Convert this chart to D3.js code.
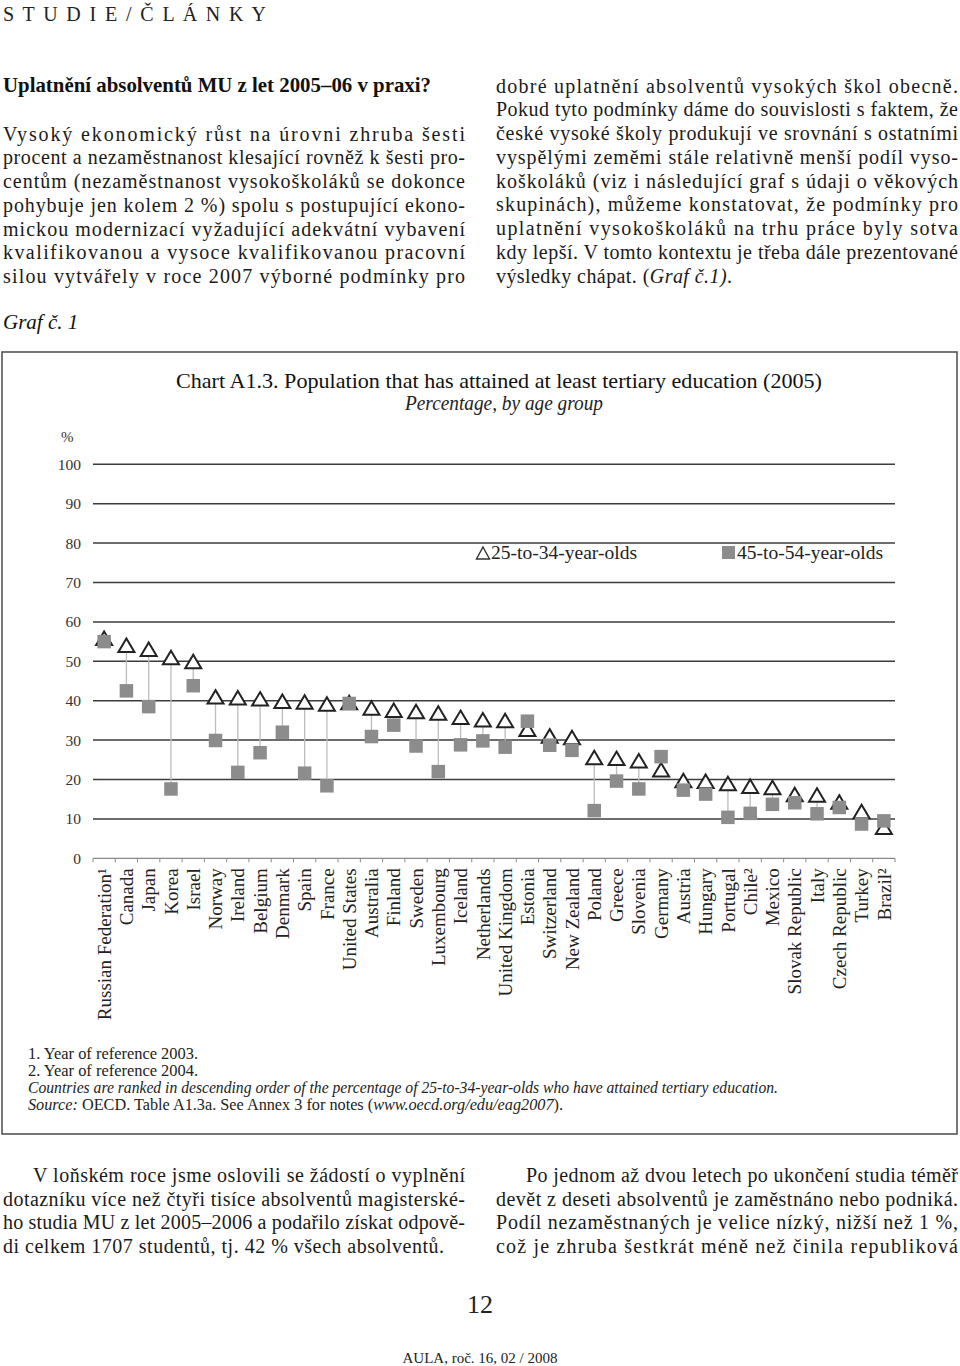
<!DOCTYPE html>
<html>
<head>
<meta charset="utf-8">
<script src="https://cdn.jsdelivr.net/npm/d3@7"></script>
<style>
  body { margin: 0; background: #fff; }
  svg { display: block; font-family: "Liberation Serif", "DejaVu Serif", serif; }
</style>
</head>
<body>
<div id="page"></div>
<script>

// chart data (percentages)
var countries = ['Russian Federation¹', 'Canada', 'Japan', 'Korea', 'Israel', 'Norway', 'Ireland',
  'Belgium', 'Denmark', 'Spain', 'France', 'United States', 'Australia', 'Finland', 'Sweden',
  'Luxembourg', 'Iceland', 'Netherlands', 'United Kingdom', 'Estonia', 'Switzerland',
  'New Zealand', 'Poland', 'Greece', 'Slovenia', 'Germany', 'Austria', 'Hungary', 'Portugal',
  'Chile²', 'Mexico', 'Slovak Republic', 'Italy', 'Czech Republic', 'Turkey', 'Brazil²'];

var age25to34 = [55.3, 53.5, 52.5, 50.4, 49.4, 40.4, 40.2, 39.9, 39.3, 39.1, 38.6, 39.0, 37.6, 37.0,
  36.7, 36.3, 35.2, 34.6, 34.4, 32.2, 30.5, 30.1, 25.0, 24.8, 24.2, 21.9, 19.2, 19.0, 18.4,
  17.7, 17.4, 15.6, 15.5, 13.7, 11.3, 7.3];

var age45to54 = [55.0, 42.5, 38.5, 17.6, 43.8, 29.9, 21.8, 26.8, 32.0, 21.6, 18.4, 39.3, 30.9, 33.8,
  28.5, 22.0, 28.8, 29.8, 28.2, 34.8, 28.7, 27.4, 12.1, 19.6, 17.6, 25.8, 17.3, 16.3, 10.4,
  11.4, 13.7, 14.1, 11.3, 12.9, 8.7, 9.5];

var yTicks = [0, 10, 20, 30, 40, 50, 60, 70, 80, 90, 100];
var seriesNames = ['25-to-34-year-olds', '45-to-54-year-olds'];

// page text
var header = 'S T U D I E   /   Č L Á N K Y';
var heading = 'Uplatnění absolventů MU z let 2005–06 v praxi?';
var leftColumn = [
  'Vysoký ekonomický růst na úrovni zhruba šesti',
  'procent a nezaměstnanost klesající rovněž k šesti pro-',
  'centům (nezaměstnanost vysokoškoláků se dokonce',
  'pohybuje jen kolem 2 %) spolu s postupující ekono-',
  'mickou modernizací vyžadující adekvátní vybavení',
  'kvalifikovanou a vysoce kvalifikovanou pracovní',
  'silou vytvářely v roce 2007 výborné podmínky pro'
];
var rightColumn = [
  'dobré uplatnění absolventů vysokých škol obecně.',
  'Pokud tyto podmínky dáme do souvislosti s faktem, že',
  'české vysoké školy produkují ve srovnání s ostatními',
  'vyspělými zeměmi stále relativně menší podíl vyso-',
  'koškoláků (viz i následující graf s údaji o věkových',
  'skupinách), můžeme konstatovat, že podmínky pro',
  'uplatnění vysokoškoláků na trhu práce byly sotva',
  'kdy lepší. V tomto kontextu je třeba dále prezentované'
];
var graphLabel = 'Graf č. 1';
var chartTitle = 'Chart A1.3. Population that has attained at least tertiary education (2005)';
var chartSubtitle = 'Percentage, by age group';
var footnotes = ['1. Year of reference 2003.', '2. Year of reference 2004.'];
var rankNote = 'Countries are ranked in descending order of the percentage of 25-to-34-year-olds who have attained tertiary education.';
var bottomLeft = [
  'V loňském roce jsme oslovili se žádostí o vyplnění',
  'dotazníku více než čtyři tisíce absolventů magisterské-',
  'ho studia MU z let 2005–2006 a podařilo získat odpově-',
  'di celkem 1707 studentů, tj. 42 % všech absolventů.'
];
var bottomRight = [
  'Po jednom až dvou letech po ukončení studia téměř',
  'devět z deseti absolventů je zaměstnáno nebo podniká.',
  'Podíl nezaměstnaných je velice nízký, nižší než 1 %,',
  'což je zhruba šestkrát méně než činila republiková'
];
var pageNumber = '12';
var journal = 'AULA, roč. 16,  02 / 2008';


var W = 960, H = 1366;
var svg = d3.select('#page').append('svg')
    .attr('width', W)
    .attr('height', H);

// stretch or squeeze a text element to a given width
function fit(t, width) {
  var natural = t.node().getComputedTextLength();
  t.attr('textLength', width)
   .attr('lengthAdjust', natural > width ? 'spacingAndGlyphs' : 'spacing');
  return t;
}

// justified lines of a text column
function column(lines, x, y0, width, lead, opts) {
  opts = opts || {};
  var g = svg.append('g').attr('font-size', opts.size || 20).attr('fill', '#1a1a1a');
  lines.forEach(function (line, i) {
    var indent = (i === 0 && opts.indent) ? opts.indent : 0;
    var t = g.append('text')
        .attr('x', x + indent)
        .attr('y', y0 + i * lead)
        .text(line);
    var last = (i === lines.length - 1) && opts.lastLoose;
    if (!last) fit(t, width - indent);
    else if (opts.lastWidth) fit(t, opts.lastWidth);
  });
  return g;
}

//
// article text above the chart
//
fit(svg.append('text')
    .attr('x', 3).attr('y', 21)
    .attr('font-size', 20).attr('fill', '#222')
    .text(header), 263);

fit(svg.append('text')
    .attr('x', 3).attr('y', 92)
    .attr('font-size', 21).attr('font-weight', 'bold').attr('fill', '#111')
    .text(heading), 428);

column(leftColumn, 3, 140.5, 462, 23.75);
column(rightColumn, 496, 92.5, 462, 23.75);

var lastLine = svg.append('text')
    .attr('x', 496).attr('y', 92.5 + 8 * 23.75)
    .attr('font-size', 20).attr('fill', '#1a1a1a');
lastLine.append('tspan').text('výsledky chápat. (');
lastLine.append('tspan').attr('font-style', 'italic').text('Graf č.1)');
lastLine.append('tspan').text('.');
fit(lastLine, 236);

svg.append('text')
    .attr('x', 3).attr('y', 329)
    .attr('font-size', 21).attr('font-style', 'italic').attr('fill', '#111')
    .text(graphLabel);

//
// the chart frame
//
svg.append('rect')
    .attr('x', 2).attr('y', 352)
    .attr('width', 955).attr('height', 782)
    .attr('fill', 'none')
    .attr('stroke', '#555')
    .attr('stroke-width', 1.6);

svg.append('text')
    .attr('x', 499).attr('y', 388)
    .attr('text-anchor', 'middle')
    .attr('font-size', 21).attr('fill', '#111')
    .attr('textLength', 646).attr('lengthAdjust', 'spacingAndGlyphs')
    .text(chartTitle);

svg.append('text')
    .attr('x', 504).attr('y', 410)
    .attr('text-anchor', 'middle')
    .attr('font-size', 20).attr('font-style', 'italic').attr('fill', '#222')
    .attr('textLength', 198).attr('lengthAdjust', 'spacingAndGlyphs')
    .text(chartSubtitle);

//
// scales
//
var x = d3.scaleBand()
    .domain(countries)
    .range([93, 895])
    .padding(0);

var y = d3.scaleLinear()
    .domain([0, 100])
    .range([858.3, 464.3]);

var plot = svg.append('g').attr('class', 'plot');

plot.append('text')
    .attr('x', 61).attr('y', 442)
    .attr('font-size', 15).attr('fill', '#333')
    .text('%');

// horizontal grid lines
plot.selectAll('line.grid')
    .data(yTicks.filter(function (d) { return d > 0; }))
    .enter()
    .append('line')
    .attr('class', 'grid')
    .attr('x1', x.range()[0]).attr('x2', x.range()[1])
    .attr('y1', function (d) { return y(d); })
    .attr('y2', function (d) { return y(d); })
    .attr('stroke', '#3c3c3c')
    .attr('stroke-width', 1.5);

plot.selectAll('text.ytick')
    .data(yTicks)
    .enter()
    .append('text')
    .attr('class', 'ytick')
    .attr('x', 81)
    .attr('y', function (d) { return y(d); })
    .attr('dy', '0.35em')
    .attr('text-anchor', 'end')
    .attr('font-size', 15.5)
    .attr('fill', '#333')
    .text(function (d) { return d; });

// base axis with ticks at the band edges
plot.append('line')
    .attr('x1', x.range()[0]).attr('x2', x.range()[1])
    .attr('y1', y(0)).attr('y2', y(0))
    .attr('stroke', '#8a8a8a').attr('stroke-width', 1.2);

plot.selectAll('line.xtick')
    .data(countries.map(function (c) { return x(c); }).concat([x.range()[1]]))
    .enter()
    .append('line')
    .attr('class', 'xtick')
    .attr('x1', function (d) { return d; })
    .attr('x2', function (d) { return d; })
    .attr('y1', y(0)).attr('y2', y(0) + 4)
    .attr('stroke', '#8a8a8a').attr('stroke-width', 1);

// country names, rotated
plot.selectAll('text.country')
    .data(countries)
    .enter()
    .append('text')
    .attr('class', 'country')
    .attr('transform', function (d) {
      return 'translate(' + (x(d) + x.bandwidth() / 2) + ',' + (y(0) + 10) + ') rotate(-90)';
    })
    .attr('dy', '0.35em')
    .attr('text-anchor', 'end')
    .attr('font-size', 19)
    .attr('fill', '#222')
    .text(function (d) { return d; });

var rows = countries.map(function (c, i) {
  return { label: c, young: age25to34[i], old: age45to54[i] };
});
var cx = function (d) { return x(d.label) + x.bandwidth() / 2; };

// stems between the two age groups
plot.selectAll('line.stem')
    .data(rows)
    .enter()
    .append('line')
    .attr('class', 'stem')
    .attr('x1', cx).attr('x2', cx)
    .attr('y1', function (d) { return y(d.young); })
    .attr('y2', function (d) { return y(d.old); })
    .attr('stroke', '#bcbcbc')
    .attr('stroke-width', 1.3);

function triangle(w, h) {
  return 'M0,' + (-2 * h / 3) + 'L' + (w / 2) + ',' + (h / 3) + 'L' + (-w / 2) + ',' + (h / 3) + 'Z';
}

plot.selectAll('path.young')
    .data(rows)
    .enter()
    .append('path')
    .attr('class', 'young')
    .attr('d', triangle(16, 13.5))
    .attr('transform', function (d) { return 'translate(' + cx(d) + ',' + y(d.young) + ')'; })
    .attr('fill', '#fff')
    .attr('stroke', '#222')
    .attr('stroke-width', 2)
    .attr('stroke-linejoin', 'miter');

var sq = 13.5;
plot.selectAll('rect.old')
    .data(rows)
    .enter()
    .append('rect')
    .attr('class', 'old')
    .attr('x', function (d) { return cx(d) - sq / 2; })
    .attr('y', function (d) { return y(d.old) - sq / 2; })
    .attr('width', sq).attr('height', sq)
    .attr('fill', '#8c8c8c');

//
// legend
//
var legend = plot.append('g').attr('font-size', 18.5).attr('fill', '#222');
legend.append('path')
    .attr('d', triangle(13, 12))
    .attr('transform', 'translate(483,555)')
    .attr('fill', '#fff').attr('stroke', '#333').attr('stroke-width', 1.4);
legend.append('text')
    .attr('x', 491).attr('y', 559)
    .attr('textLength', 146).attr('lengthAdjust', 'spacingAndGlyphs')
    .text(seriesNames[0]);
legend.append('rect')
    .attr('x', 722).attr('y', 546).attr('width', 13).attr('height', 13)
    .attr('fill', '#8c8c8c');
legend.append('text')
    .attr('x', 737).attr('y', 559)
    .attr('textLength', 146).attr('lengthAdjust', 'spacingAndGlyphs')
    .text(seriesNames[1]);

//
// notes under the chart
//
var notes = svg.append('g').attr('font-size', 16).attr('fill', '#222');
notes.append('text').attr('x', 28).attr('y', 1059)
    .attr('textLength', 170).attr('lengthAdjust', 'spacingAndGlyphs').text(footnotes[0]);
notes.append('text').attr('x', 28).attr('y', 1076)
    .attr('textLength', 170).attr('lengthAdjust', 'spacingAndGlyphs').text(footnotes[1]);
notes.append('text').attr('x', 28).attr('y', 1093)
    .attr('font-style', 'italic')
    .attr('textLength', 750).attr('lengthAdjust', 'spacingAndGlyphs').text(rankNote);
var src = notes.append('text').attr('x', 28).attr('y', 1110)
    .attr('textLength', 535).attr('lengthAdjust', 'spacingAndGlyphs');
src.append('tspan').attr('font-style', 'italic').text('Source:');
src.append('tspan').text(' OECD. Table A1.3a. See Annex 3 for notes (');
src.append('tspan').attr('font-style', 'italic').text('www.oecd.org/edu/eag2007');
src.append('tspan').text(').');

//
// article text below the chart
//
column(bottomLeft, 3, 1182, 462, 23.7, { indent: 30, lastLoose: true, lastWidth: 441 });
column(bottomRight, 496, 1182, 462, 23.7, { indent: 30 });

svg.append('text')
    .attr('x', 480).attr('y', 1313)
    .attr('text-anchor', 'middle')
    .attr('font-size', 26).attr('fill', '#222')
    .text(pageNumber);

svg.append('text')
    .attr('x', 480).attr('y', 1363)
    .attr('text-anchor', 'middle')
    .attr('font-size', 15).attr('fill', '#222')
    .text(journal);

</script>
</body>
</html>
